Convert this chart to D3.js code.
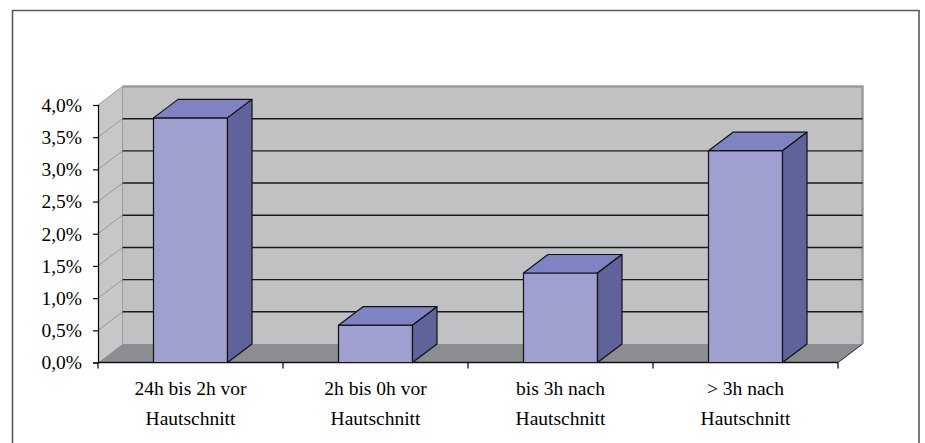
<!DOCTYPE html>
<html lang="de">
<head>
  <meta charset="UTF-8">
  <title>Zeitpunkt vor/nach Hautschnitt</title>
  <script src="https://d3js.org/d3.v7.min.js"></script>
  <style>
    body { margin: 0; background: #fff; }
    svg { display: block; font-family: "Liberation Serif", "Times New Roman", serif; }
    .label { font-size: 19.5px; fill: #000; }
  </style>
</head>
<body>
  <svg width="925" height="443"></svg>
  <script>
    const categories = ["24h bis 2h vor|Hautschnitt", "2h bis 0h vor|Hautschnitt", "bis 3h nach|Hautschnitt", "> 3h nach|Hautschnitt"];
    const values = [3.8, 0.58, 1.39, 3.29];
    const yTicks = [0, 0.5, 1, 1.5, 2, 2.5, 3, 3.5, 4];

    const svg = d3.select("svg");
    const depth = {dx: 24.5, dy: -18.5};

    // outer frame
    svg.append("path")
      .attr("d", "M12.5,450 V10.5 H919 V450")
      .attr("fill", "none")
      .attr("stroke", "#5a5a5a")
      .attr("stroke-width", 1.6);

    const x = d3.scaleBand()
      .domain(categories)
      .range([98, 838])
      .paddingInner(0.6)
      .paddingOuter(0.3);

    const y = d3.scaleLinear()
      .domain([0, 4])
      .range([362.5, 105]);

    const x0 = x.range()[0], x1 = x.range()[1];
    const y0 = y(0), yTop = y(4);
    const pt = (px, py) => `${px},${py}`;

    // back wall
    svg.append("polygon")
      .attr("points", [pt(x0 + depth.dx, yTop + depth.dy), pt(x1 + depth.dx, yTop + depth.dy),
                       pt(x1 + depth.dx, y0 + depth.dy), pt(x0 + depth.dx, y0 + depth.dy)].join(" "))
      .attr("fill", "#c0c1c3");
    svg.append("path")
      .attr("d", `M${x0 + depth.dx},${yTop + depth.dy} H${x1 + depth.dx} V${y0 + depth.dy}`)
      .attr("fill", "none")
      .attr("stroke", "#9a9b9d")
      .attr("stroke-width", 2.5);

    // side wall
    svg.append("polygon")
      .attr("points", [pt(x0, yTop), pt(x0 + depth.dx, yTop + depth.dy),
                       pt(x0 + depth.dx, y0 + depth.dy), pt(x0, y0)].join(" "))
      .attr("fill", "#c6c7c9");
    svg.append("line")
      .attr("x1", x0 + depth.dx).attr("x2", x0 + depth.dx)
      .attr("y1", yTop + depth.dy).attr("y2", y0 + depth.dy)
      .attr("stroke", "#9a9b9d").attr("stroke-width", 1);

    // floor
    svg.append("polygon")
      .attr("points", [pt(x0, y0), pt(x0 + depth.dx, y0 + depth.dy),
                       pt(x1 + depth.dx, y0 + depth.dy), pt(x1, y0)].join(" "))
      .attr("fill", "#8b8d90");
    svg.append("line")
      .attr("x1", x1).attr("y1", y0)
      .attr("x2", x1 + depth.dx).attr("y2", y0 + depth.dy)
      .attr("stroke", "#222").attr("stroke-width", 1);

    // grid lines on back wall + diagonals on side wall
    yTicks.filter(t => t > 0 && t < 4).forEach(t => {
      svg.append("line")
        .attr("x1", x0 + depth.dx).attr("x2", x1 + depth.dx)
        .attr("y1", y(t) + depth.dy).attr("y2", y(t) + depth.dy)
        .attr("stroke", "#1a1a1a").attr("stroke-width", 1.4);
    });
    yTicks.filter(t => t > 0).forEach(t => {
      svg.append("line")
        .attr("x1", x0).attr("y1", y(t))
        .attr("x2", x0 + depth.dx).attr("y2", y(t) + depth.dy)
        .attr("stroke", "#8a8a8a").attr("stroke-width", 0.8);
    });

    // y axis
    const yAxis = svg.append("g")
      .attr("transform", `translate(${x0},0)`)
      .call(d3.axisLeft(y).tickValues(yTicks).tickSize(5).tickPadding(11)
        .tickFormat(d => d3.format(".1f")(d).replace(".", ",") + "%"));
    yAxis.select(".domain").attr("stroke", "#000").attr("stroke-width", 1.2);
    yAxis.selectAll(".tick line").attr("stroke", "#000").attr("stroke-width", 1.2);
    yAxis.selectAll(".tick text").attr("class", "label")
      .style("font-family", "Liberation Serif, serif").attr("fill", "#000");

    // x axis
    const step = x.step();
    svg.append("line")
      .attr("x1", x0).attr("x2", x1).attr("y1", y0).attr("y2", y0)
      .attr("stroke", "#111").attr("stroke-width", 1.4);
    d3.range(categories.length + 1).forEach(i => {
      svg.append("line")
        .attr("x1", x0 + i * step).attr("x2", x0 + i * step)
        .attr("y1", y0).attr("y2", y0 + 6)
        .attr("stroke", "#000").attr("stroke-width", 1.2);
    });

    const labels = svg.append("g");
    categories.forEach((c, i) => {
      const cx = x0 + (i + 0.5) * step;
      c.split("|").forEach((line, j) => {
        labels.append("text")
          .attr("class", "label")
          .attr("x", cx)
          .attr("y", 395 + j * 30)
          .attr("text-anchor", "middle")
          .text(line);
      });
    });

    // bars
    const bars = svg.append("g");
    categories.forEach((c, i) => {
      const bx0 = x(c), bx1 = x(c) + x.bandwidth();
      const by = y(values[i]);
      const g = bars.append("g")
        .attr("stroke", "#111")
        .attr("stroke-width", 1.2)
        .attr("stroke-linejoin", "round");
      g.append("rect")
        .attr("x", bx0).attr("y", by)
        .attr("width", bx1 - bx0).attr("height", y0 - by)
        .attr("fill", "#9fa0d0");
      g.append("polygon")
        .attr("points", [pt(bx0, by), pt(bx0 + depth.dx, by + depth.dy),
                         pt(bx1 + depth.dx, by + depth.dy), pt(bx1, by)].join(" "))
        .attr("fill", "#8083c2");
      g.append("polygon")
        .attr("points", [pt(bx1, by), pt(bx1 + depth.dx, by + depth.dy),
                         pt(bx1 + depth.dx, y0 + depth.dy), pt(bx1, y0)].join(" "))
        .attr("fill", "#5f6399");
    });
  </script>
</body>
</html>
